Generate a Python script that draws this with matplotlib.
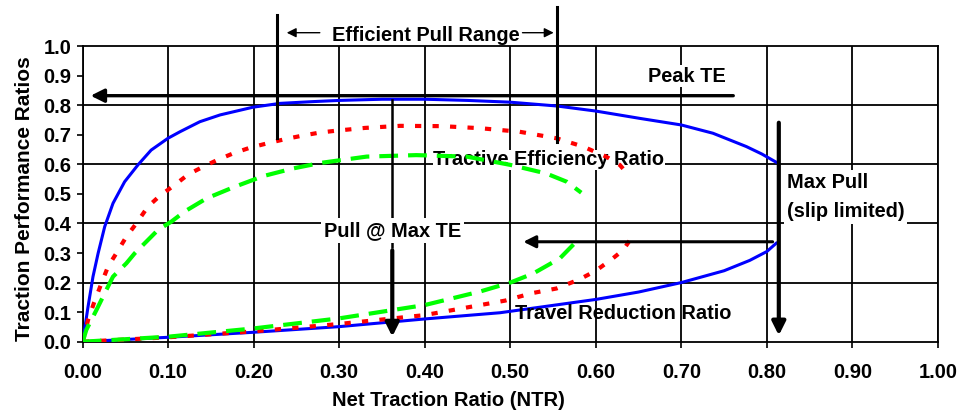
import matplotlib
matplotlib.use("Agg")
import matplotlib.pyplot as plt

plt.rcParams['font.family'] = ['Liberation Sans', 'DejaVu Sans']
plt.rcParams['font.weight'] = 'bold'

# ---- data ----
blue_te_x = [0, 0.0062, 0.012, 0.018, 0.0257, 0.0354, 0.049, 0.0646, 0.080, 0.0997, 0.1137, 0.137, 0.1607,
             0.199, 0.2306, 0.2695, 0.30, 0.35, 0.40, 0.45, 0.50, 0.555, 0.60, 0.652, 0.70, 0.737, 0.776,
             0.794, 0.811]
blue_te_y = [0, 0.118, 0.22, 0.299, 0.389, 0.468, 0.541, 0.598, 0.648, 0.688, 0.71, 0.744, 0.767,
             0.793, 0.806, 0.812, 0.816, 0.82, 0.82, 0.816, 0.81, 0.797, 0.78, 0.755, 0.733, 0.705, 0.66,
             0.635, 0.607]
blue_trr_x = [0, 0.10, 0.20, 0.30, 0.40, 0.488, 0.60, 0.65, 0.70, 0.75, 0.78, 0.80, 0.811]
blue_trr_y = [0, 0.015, 0.032, 0.051, 0.077, 0.098, 0.143, 0.168, 0.20, 0.24, 0.275, 0.305, 0.333]

red_te_x = [0, 0.0062, 0.013, 0.0218, 0.0296, 0.0393, 0.051, 0.0627, 0.0763, 0.090, 0.1075, 0.1235, 0.141,
            0.157, 0.176, 0.1955, 0.216, 0.2365, 0.257, 0.2766, 0.296, 0.33, 0.371, 0.42, 0.465, 0.511,
            0.554, 0.585, 0.612, 0.628, 0.64]
red_te_y = [0, 0.073, 0.13, 0.197, 0.254, 0.299, 0.355, 0.40, 0.457, 0.493, 0.53, 0.566, 0.592,
            0.614, 0.637, 0.656, 0.671, 0.685, 0.697, 0.707, 0.7135, 0.723, 0.73, 0.729, 0.722, 0.71,
            0.688, 0.66, 0.626, 0.598, 0.558]
red_trr_x = [0, 0.10, 0.20, 0.30, 0.40, 0.465, 0.494, 0.525, 0.554, 0.581, 0.60, 0.62, 0.632, 0.64]
red_trr_y = [0, 0.015, 0.035, 0.06, 0.09, 0.124, 0.139, 0.164, 0.18, 0.211, 0.24, 0.282, 0.31, 0.344]

green_te_x = [0, 0.0042, 0.016, 0.0257, 0.0354, 0.051, 0.0608, 0.0763, 0.088, 0.1036, 0.119, 0.145, 0.176,
              0.211, 0.246, 0.279, 0.332, 0.39, 0.449, 0.50, 0.542, 0.566, 0.583]
green_te_y = [0, 0.04, 0.107, 0.164, 0.22, 0.265, 0.299, 0.344, 0.378, 0.406, 0.44, 0.485, 0.522,
              0.56, 0.586, 0.605, 0.626, 0.631, 0.626, 0.598, 0.569, 0.541, 0.504]
green_trr_x = [0, 0.10, 0.20, 0.30, 0.40, 0.465, 0.50, 0.527, 0.558, 0.577]
green_trr_y = [0, 0.017, 0.045, 0.079, 0.124, 0.17, 0.2, 0.231, 0.282, 0.338]

x_ticks = [0.0, 0.1, 0.2, 0.3, 0.4, 0.5, 0.6, 0.7, 0.8, 0.9, 1.0]
x_tick_labels = ['0.00', '0.10', '0.20', '0.30', '0.40', '0.50', '0.60', '0.70', '0.80', '0.90', '1.00']
y_ticks = [0.0, 0.1, 0.2, 0.3, 0.4, 0.5, 0.6, 0.7, 0.8, 0.9, 1.0]
y_tick_labels = ['0.0', '0.1', '0.2', '0.3', '0.4', '0.5', '0.6', '0.7', '0.8', '0.9', '1.0']
y_grid = [0.2, 0.4, 0.6, 0.8]

fig = plt.figure(figsize=(9.63, 4.13), dpi=100)
ax = fig.add_axes([0.0859, 0.1726, 0.888, 0.716])
ax.set_xlim(0, 1)
ax.set_ylim(0, 1)
ax.set_xticks(x_ticks)
ax.set_xticklabels(x_tick_labels)
ax.set_yticks(y_ticks)
ax.set_yticklabels(y_tick_labels)
ax.tick_params(axis='both', labelsize=14.5, length=4.5, width=1.2, colors='black')
ax.tick_params(axis='x', pad=11)
ax.tick_params(axis='y', pad=3.5)
for lab in ax.get_xticklabels() + ax.get_yticklabels():
    lab.set_fontweight('bold')
ax.xaxis.grid(True, color='black', linewidth=1.3)
for gy in y_grid:
    ax.axhline(gy, color='black', linewidth=1.3, zorder=0.5)
for s in ax.spines.values():
    s.set_linewidth(1.3)
ax.set_axisbelow(True)

ax.set_xlabel('Net Traction Ratio (NTR)', fontsize=14.5, fontweight='bold')
ax.xaxis.set_label_coords(0.428, -0.168)
ax.set_ylabel('Traction Performance Ratios', fontsize=15, fontweight='bold')
ax.yaxis.set_label_coords(-0.057, 0.483)

# curves
ax.plot(blue_te_x, blue_te_y, color='#0000ff', lw=2.2, zorder=3)
ax.plot(blue_trr_x, blue_trr_y, color='#0000ff', lw=2.2, zorder=3)
ax.plot(red_te_x, red_te_y, color='#ff0000', lw=3.0, linestyle=(0, (1.5, 2.7)), zorder=3)
ax.plot(red_trr_x, red_trr_y, color='#ff0000', lw=3.0, linestyle=(0, (1.5, 2.7)), zorder=3)
ax.plot(green_te_x, green_te_y, color='#00ff00', lw=3.0, linestyle=(0, (4.5, 2.4)), zorder=3)
ax.plot(green_trr_x, green_trr_y, color='#00ff00', lw=3.0, linestyle=(0, (4.5, 2.4)), zorder=3)

fs = 14.4
# efficient pull range vertical bars
ax.plot([0.227, 0.227], [1.105, 0.688], color='black', lw=2.2, clip_on=False, zorder=4)
ax.plot([0.555, 0.555], [1.133, 0.676], color='black', lw=2.2, clip_on=False, zorder=4)
ax.text(0.401, 1.037, 'Efficient Pull Range', fontsize=fs, fontweight='bold', ha='center', va='center',
        clip_on=False)
ax.annotate('', xy=(0.2353, 1.045), xytext=(0.2805, 1.045),
            arrowprops=dict(arrowstyle='-|>', color='black', lw=1.0, mutation_scale=14), annotation_clip=False)
ax.annotate('', xy=(0.554, 1.045), xytext=(0.511, 1.045),
            arrowprops=dict(arrowstyle='-|>', color='black', lw=1.0, mutation_scale=14), annotation_clip=False)

# peak TE arrow
ax.annotate('', xy=(0.006, 0.832), xytext=(0.764, 0.832),
            arrowprops=dict(arrowstyle='-|>', color='black', lw=2.4, mutation_scale=20), zorder=4)
ax.text(0.706, 0.898, 'Peak TE', fontsize=fs, fontweight='bold', ha='center', va='center',
        bbox=dict(facecolor='white', edgecolor='none', pad=1), zorder=5)

# Pull @ Max TE
ax.plot([0.362, 0.362], [0.818, 0.32], color='black', lw=1.8, zorder=4)
ax.annotate('', xy=(0.362, 0.008), xytext=(0.362, 0.318),
            arrowprops=dict(arrowstyle='-|>', color='black', lw=3.0, mutation_scale=20), zorder=4)
ax.text(0.362, 0.376, 'Pull @ Max TE', fontsize=fs, fontweight='bold', ha='center', va='center',
        bbox=dict(facecolor='white', edgecolor='none', pad=2), zorder=5)

# Max pull
ax.annotate('', xy=(0.814, 0.012), xytext=(0.814, 0.75),
            arrowprops=dict(arrowstyle='-|>', color='black', lw=3.0, mutation_scale=20), zorder=4)
ax.annotate('', xy=(0.512, 0.338), xytext=(0.81, 0.338),
            arrowprops=dict(arrowstyle='-|>', color='black', lw=2.2, mutation_scale=18), zorder=4)
ax.text(0.823, 0.49, 'Max Pull\n(slip limited)', fontsize=fs, fontweight='bold', ha='left', va='center',
        linespacing=1.7, bbox=dict(facecolor='white', edgecolor='none', pad=2), zorder=5)

# curve labels
ax.text(0.545, 0.615, 'Tractive Efficiency Ratio', fontsize=fs, fontweight='bold', ha='center', va='center',
        bbox=dict(facecolor='white', edgecolor='none', pad=0.5), zorder=2)
ax.text(0.632, 0.094, 'Travel Reduction Ratio', fontsize=fs, fontweight='bold', ha='center', va='center',
        zorder=5)

fig.savefig('out.png', dpi=100)
